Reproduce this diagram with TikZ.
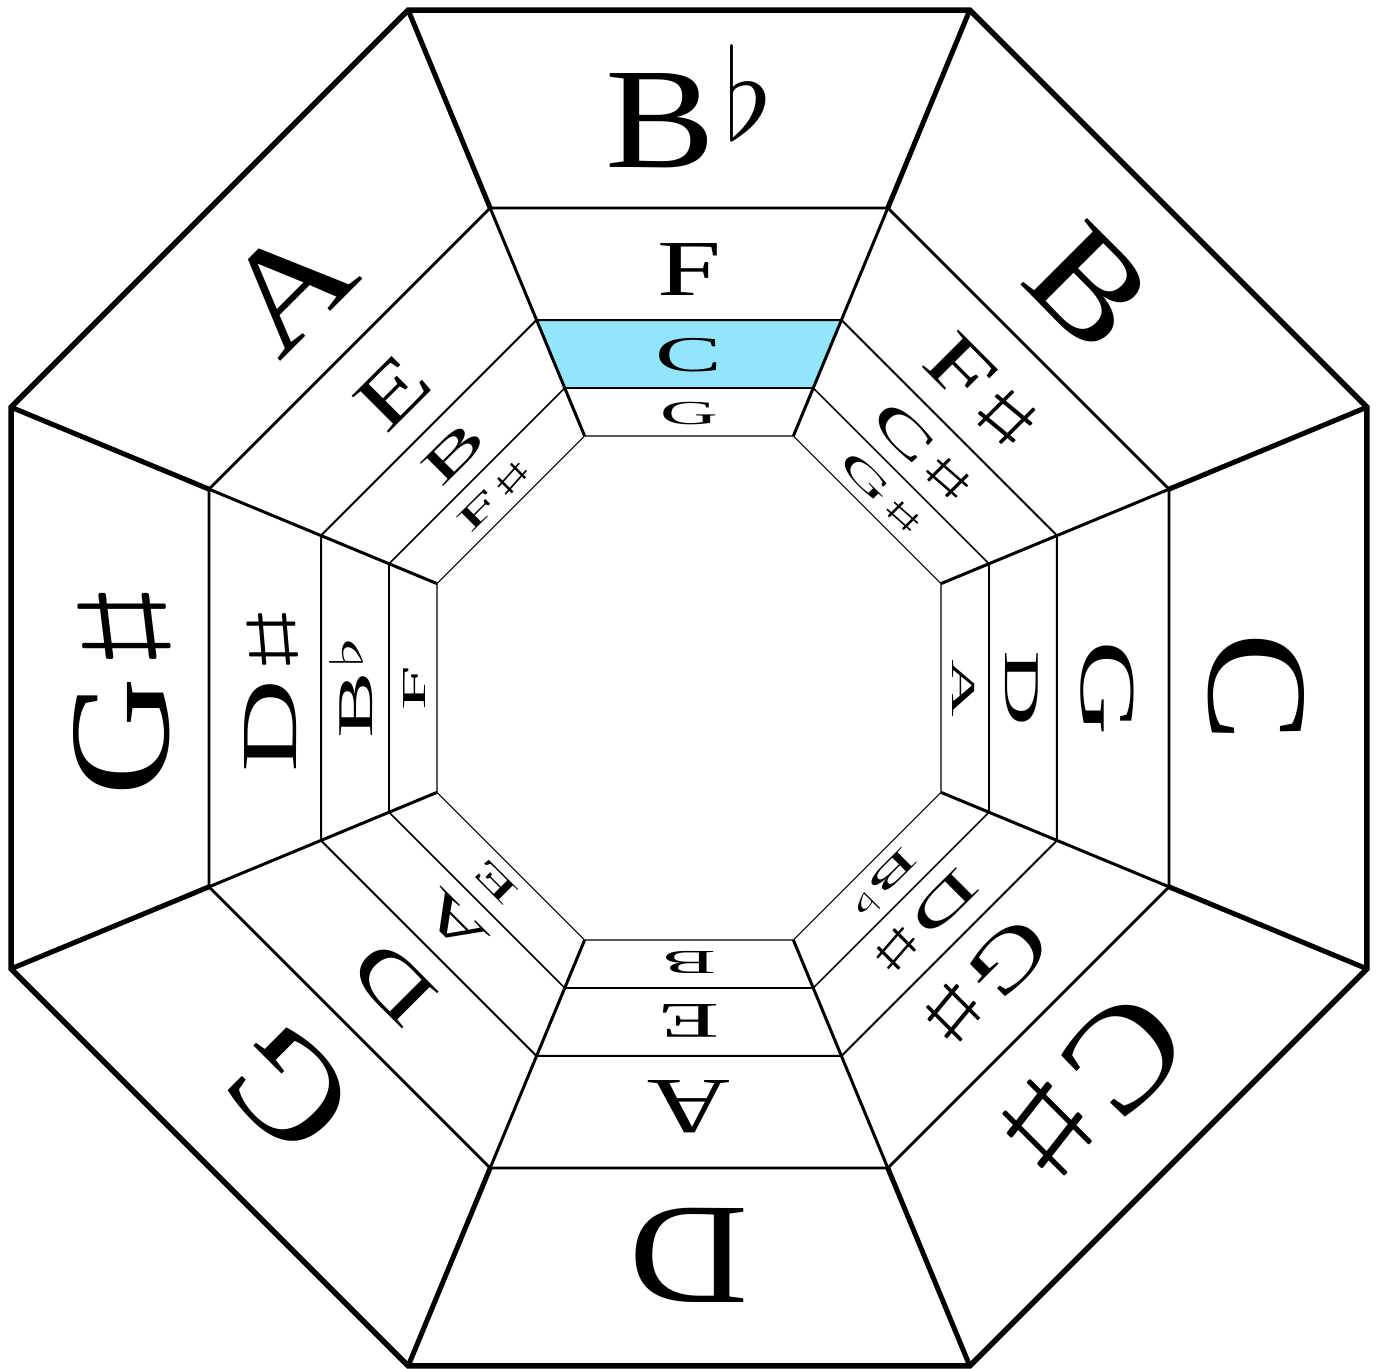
\documentclass[tikz,border=0pt]{standalone}
\usepackage{fontspec}
\setmainfont{Liberation Serif}
\usepackage{graphicx}
\definecolor{hl}{RGB}{146,229,250}
\newcommand\myflat{\kern0.05em\raisebox{0.2em}{\resizebox*{0.3em}{0.66em}{$\flat$}}}
\newcommand\mysharp{\kern0.03em\resizebox*{0.56em}{0.62em}{\raisebox{\depth}{$\sharp$}}}
\tikzset{
  lbl/.style={anchor=base, inner sep=0pt, outer sep=0pt},
}
\begin{document}
\begin{tikzpicture}[x=1pt,y=1pt,line join=miter]
\useasboundingbox (-689,-680) rectangle (687,688);
\def\fa{1.0823922}
% vertices of the five octagons
\foreach \r/\a in {a/252,b/300,c/368,d/480,e/678}{
  \foreach \i in {0,...,7}{
    \coordinate (\r\i) at ({22.5+45*\i}:{\a*\fa});
  }
}
% highlighted cell
\fill[hl] (b1) -- (c1) -- (c2) -- (b2) -- cycle;
% ring octagons
\draw[line width=1.2pt] (a0)--(a1)--(a2)--(a3)--(a4)--(a5)--(a6)--(a7)--cycle;
\draw[line width=1.6pt] (b0)--(b1)--(b2)--(b3)--(b4)--(b5)--(b6)--(b7)--cycle;
\draw[line width=2pt] (c0)--(c1)--(c2)--(c3)--(c4)--(c5)--(c6)--(c7)--cycle;
\draw[line width=2.8pt] (d0)--(d1)--(d2)--(d3)--(d4)--(d5)--(d6)--(d7)--cycle;
% radial lines
\foreach \i in {0,...,7}{
  \draw[line width=3pt] (a\i) -- (d\i);
  \draw[line width=5pt] (d\i) -- (e\i);
}
\draw[line width=5.5pt] (e0)--(e1)--(e2)--(e3)--(e4)--(e5)--(e6)--(e7)--cycle;
% labels: outer ring
\foreach \k/\t in {0/{B\myflat},1/B,2/C,3/{C\mysharp},4/D,5/G,6/{G\mysharp},7/A}{
  \node[lbl, rotate={-45*\k}] (o\k) at ({90-45*\k}:520) {\scalebox{1}[0.87]{\fontsize{165}{165}\selectfont \t}};
}
% ring 2
\foreach \k/\t/\s in {0/F/1,1/{F\mysharp}/1,2/G/1.15,3/{G\mysharp}/1,4/A/1,5/D/1,6/{D\mysharp}/1.12,7/E/1}{
  \node[lbl, rotate={-45*\k}] (p\k) at ({90-45*\k}:392) {\scalebox{\s}[0.69]{\fontsize{115}{115}\selectfont \t}};
}
% ring 3
\foreach \k/\t/\s in {0/C/1,1/{C\mysharp}/1,2/D/1.05,3/{D\mysharp}/1,4/E/1,5/A/1,6/{B\myflat}/1,7/B/1}{
  \node[lbl, rotate={-45*\k}] (q\k) at ({90-45*\k}:316) {\scalebox{\s}[0.5]{\fontsize{100}{100}\selectfont \t}};
}
% ring 4
\foreach \k/\t in {0/G,1/{G\mysharp},2/A,3/{B\myflat},4/B,5/E,6/F,7/{F\mysharp}}{
  \node[lbl, rotate={-45*\k}] (s\k) at ({90-45*\k}:263) {\scalebox{1}[0.42]{\fontsize{80}{80}\selectfont \t}};
}
\end{tikzpicture}
\end{document}
